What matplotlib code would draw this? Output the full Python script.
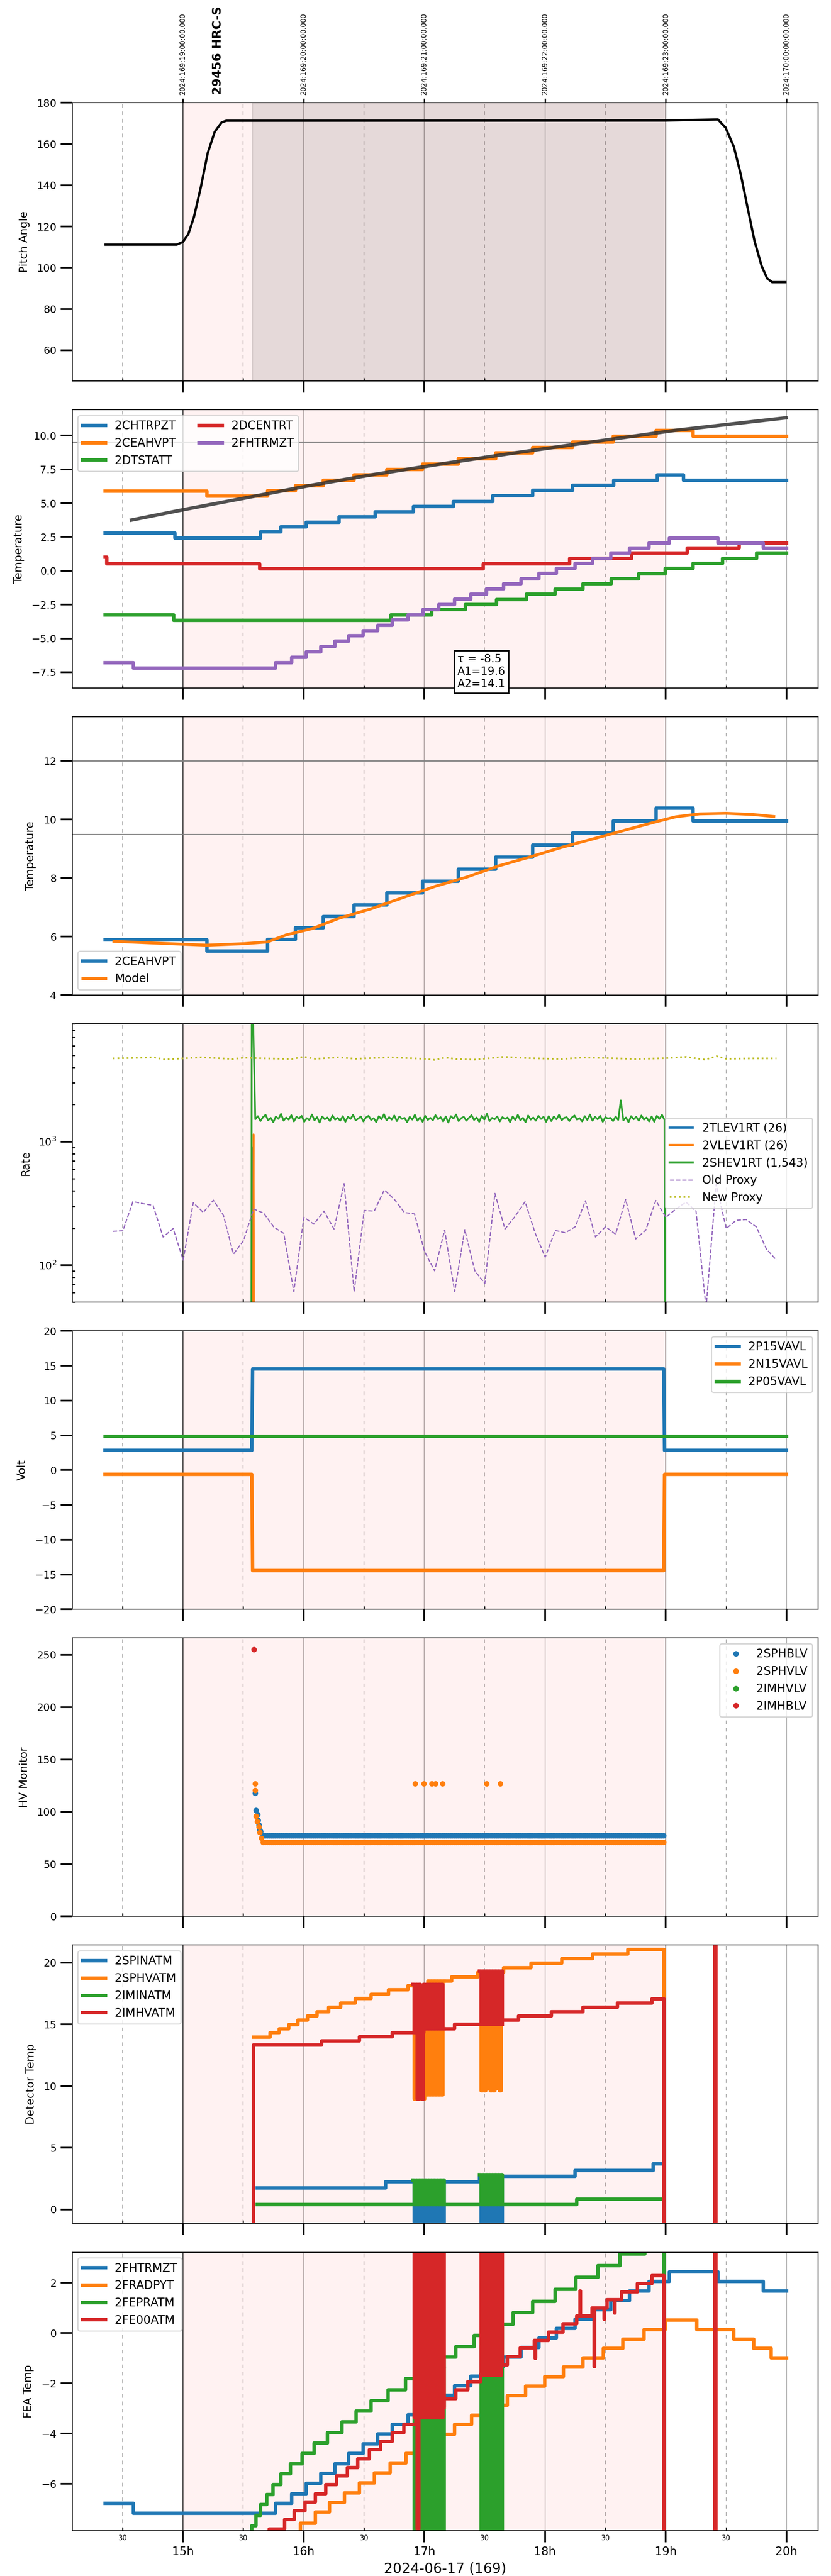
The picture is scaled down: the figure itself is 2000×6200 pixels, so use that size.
import numpy as np
import matplotlib.pyplot as plt
import matplotlib.transforms as mtransforms
from matplotlib.ticker import FixedLocator, FixedFormatter, MultipleLocator, NullLocator

# times are decimal hours, local time on 2024-06-17 (day 169)
hours = [15, 16, 17, 18, 19, 20]
half_hours = [14.5, 15.5, 16.5, 17.5, 18.5, 19.5]
hour_labels = ['15h', '16h', '17h', '18h', '19h', '20h']
utc_labels = ['2024:169:19:00:00.000', '2024:169:20:00:00.000', '2024:169:21:00:00.000',
              '2024:169:22:00:00.000', '2024:169:23:00:00.000', '2024:170:00:00:00.000']
obs_start, obs_end = 15.0, 19.0
dwell_start = 15.576
obsid_label = '29456 HRC-S'
obsid_time = 15.29

# --- pitch
pitch_t = [14.36, 14.948, 15.0, 15.046, 15.092, 15.149, 15.206, 15.264, 15.321, 15.361,
           19.0, 19.432, 19.495, 19.564, 19.621, 19.679, 19.736, 19.794, 19.840, 19.881, 19.991]
pitch_v = [111.2, 111.2, 112.5, 116.4, 124.6, 139.1, 155.6, 165.9, 170.5, 171.3,
           171.4, 171.9, 168.0, 158.7, 145.3, 128.8, 112.8, 100.9, 94.8, 93.0, 93.0]

# --- temperatures (panel 2)
chtrpzt_t = [14.355, 14.934, 15.645, 15.812, 16.023, 16.295, 16.593, 16.910, 17.239, 17.568,
             17.897, 18.227, 18.569, 18.929, 19.148, 20.0]
chtrpzt_v = [2.80, 2.43, 2.87, 3.24, 3.60, 4.00, 4.37, 4.76, 5.13, 5.54, 5.94, 6.32, 6.70,
             7.10, 6.70, 6.70]
ceahvpt_t = [14.355, 15.198, 15.702, 15.931, 16.163, 16.418, 16.690, 16.984, 17.283, 17.590,
             17.897, 18.227, 18.565, 18.920, 19.227, 20.0]
ceahvpt_v = [5.89, 5.51, 5.91, 6.30, 6.68, 7.08, 7.49, 7.89, 8.30, 8.71, 9.12, 9.53, 9.94,
             10.38, 9.94, 9.94]
dtstatt_t = [14.355, 14.925, 16.725, 17.063, 17.340, 17.599, 17.845, 18.082, 18.314, 18.547,
             18.775, 18.995, 19.227, 19.469, 19.754, 20.0]
dtstatt_v = [-3.26, -3.66, -3.26, -2.87, -2.48, -2.12, -1.72, -1.35, -0.96, -0.59, -0.21,
             0.17, 0.55, 0.93, 1.30, 1.30]
dcentrt_t = [14.355, 14.37, 15.636, 17.489, 18.205, 18.718, 19.179, 19.609, 20.0]
dcentrt_v = [1.0, 0.52, 0.16, 0.52, 0.92, 1.30, 1.67, 2.05, 2.05]
fhtrmzt_t = [14.355, 14.592, 15.768, 15.900, 16.023, 16.141, 16.260, 16.374, 16.493, 16.615,
             16.734, 16.866, 16.989, 17.120, 17.252, 17.384, 17.515, 17.656, 17.801, 17.950,
             18.095, 18.248, 18.393, 18.543, 18.701, 18.863, 19.030, 19.434, 19.807, 20.0]
fhtrmzt_v = [-6.78, -7.18, -6.78, -6.39, -5.99, -5.59, -5.20, -4.80, -4.42, -4.02, -3.64,
             -3.25, -2.87, -2.48, -2.10, -1.72, -1.34, -0.96, -0.58, -0.20, 0.19, 0.55, 0.93,
             1.30, 1.68, 2.05, 2.43, 2.05, 1.68, 1.68]
fit_t = [14.574, 15.0, 15.702, 16.049, 16.554, 17.133, 17.744, 18.393, 19.074, 19.996]
fit_v = [3.75, 4.51, 5.70, 6.30, 7.08, 7.89, 8.71, 9.53, 10.38, 11.31]
fit_text = 'τ = -8.5\nA1=19.6\nA2=14.1'

# --- model (panel 3)
model_t = [14.429, 14.802, 15.198, 15.505, 15.702, 15.856, 16.076, 16.295, 16.558, 16.822,
           17.085, 17.349, 17.612, 17.875, 18.139, 18.402, 18.666, 18.929, 19.083, 19.280,
           19.500, 19.719, 19.895]
model_v = [5.84, 5.775, 5.71, 5.76, 5.82, 6.06, 6.28, 6.63, 6.95, 7.33, 7.71, 8.03, 8.41,
           8.72, 9.05, 9.34, 9.64, 9.93, 10.09, 10.19, 10.21, 10.17, 10.10]

# --- rates (panel 4)
tlev_t = [15.570, 15.583, 15.587, 18.99, 19.0]
tlev_v = [1, 900, 26, 26, 1]
vlev_t = [15.575, 15.586, 15.590, 18.99, 19.0]
vlev_v = [1, 1150, 26, 26, 1]
shev_v = [1520, 1610, 1470, 1580, 1650, 1490, 1560, 1440, 1600, 1530,
          1680, 1480, 1570, 1510, 1640, 1460, 1590, 1540, 1620, 1450,
          1550, 1500, 1660, 1490, 1580, 1430, 1600, 1520, 1570, 1470,
          1630, 1510, 1560, 1480, 1610, 1450, 1590, 1530, 1650, 1490,
          1540, 1600, 1460, 1570, 1620, 1500, 1550, 1440, 1610, 1520,
          1670, 1490, 1580, 1510, 1630, 1470, 1600, 1530, 1560, 1440,
          1590, 1510, 1650, 1480, 1570, 1450, 1620, 1500, 1560, 1490,
          1640, 1520, 1580, 1460, 1600, 1430, 1610, 1540, 1660, 1470,
          1550, 1590, 1480, 1560, 1640, 1500, 1570, 1450, 1620, 1510,
          1680, 1470, 1560, 1520, 1600, 1460, 1580, 1530, 1570, 1440,
          1600, 1500, 1650, 1490, 1560, 1440, 1630, 1510, 1570, 1480,
          1620, 1530, 1590, 1450, 1610, 1470, 1600, 1520, 1650, 1490,
          1560, 1580, 1470, 1570, 1630, 1510, 1550, 1460, 1610, 1500,
          1660, 1480, 1590, 1520, 1620, 1450, 1580, 1540, 1560, 1470,
          1600, 1500, 2160, 1490, 1570, 1440, 1610, 1520, 1590, 1480,
          1630, 1510, 1570, 1460, 1600, 1450, 1620, 1530, 1650, 1500]
shev_start = (15.566, 15.571)
shev_start_v = (1, 30000)
old_proxy_v = [188, 190, 327, 315, 305, 169, 198, 110, 321, 267,
               336, 253, 123, 158, 285, 264, 204, 181, 61, 244,
               215, 274, 196, 458, 61, 277, 274, 407, 341, 267,
               260, 129, 90, 192, 61, 194, 90, 71, 381, 196,
               248, 327, 182, 116, 191, 183, 205, 332, 169, 205,
               178, 341, 163, 192, 334, 244, 285, 324, 274, 45,
               453, 198, 231, 234, 204, 135, 110]
new_proxy_t = [14.421, 14.583, 14.759, 14.846, 15.000, 15.154, 15.417, 15.505, 15.680, 15.900,
               16.001, 16.097, 16.295, 16.427, 16.712, 16.997, 17.085, 17.173, 17.261, 17.414,
               17.656, 17.875, 18.139, 18.314, 18.490, 18.753, 18.995, 19.170, 19.324, 19.421,
               19.500, 19.719, 19.917]
new_proxy_v = [4734, 4770, 4830, 4642, 4734, 4830, 4679, 4793, 4734, 4679,
               4868, 4697, 4830, 4697, 4830, 4697, 4604, 4812, 4679, 4623,
               4868, 4752, 4679, 4812, 4770, 4679, 4752, 4868, 4623, 4926,
               4697, 4734, 4734]

# --- voltages (panel 5)
volt_t = [14.355, 15.571, 15.578, 18.983, 18.990, 20.0]
p15_v = [2.85, 2.85, 14.55, 14.55, 2.85, 2.85]
n15_v = [-0.6, -0.6, -14.43, -14.43, -0.6, -0.6]
p05_v = [4.85, 4.85, 4.85, 4.85, 4.85, 4.85]

# --- HV monitors (panel 6)
sphblv_t = [15.597, 15.606, 15.619, 15.623, 15.628, 15.637, 15.645]
sphblv_v = [117.8, 101.6, 97.3, 92.0, 87.4, 82.6, 81.0]
sphblv_level = 77.3
sphvlv_t = [15.597, 15.599, 15.606, 15.615, 15.628, 15.637, 15.650,
            16.923, 16.997, 17.063, 17.094, 17.151, 17.515, 17.630]
sphvlv_v = [126.9, 120.6, 95.9, 90.8, 85.5, 80.2, 75.0,
            126.9, 126.9, 126.9, 126.9, 126.9, 126.9, 126.9]
sphvlv_level = 70.7
hv_band = (15.665, 18.99)
imhvlv_t, imhvlv_v = [], []
imhblv_t, imhblv_v = [15.588], [255.1]

# --- detector temps (panel 7)
spinatm_t = [15.615, 16.681, 17.458, 18.248, 18.894, 18.986, 20.0]
spinatm_v = [1.76, 2.24, 2.69, 3.17, 3.69, -60, -60]
sphvatm_t = [15.584, 15.724, 15.799, 15.878, 15.953, 16.032, 16.111, 16.207, 16.308, 16.427,
             16.558, 16.703, 16.866, 17.032, 17.226, 17.445, 17.656, 17.884, 18.139, 18.393,
             18.687, 18.986, 20.0]
sphvatm_v = [13.96, 14.33, 14.65, 14.99, 15.33, 15.68, 16.02, 16.38, 16.73, 17.09, 17.44,
             17.79, 18.15, 18.50, 18.86, 19.23, 19.60, 19.95, 20.32, 20.69, 21.08, -60, -60]
iminatm_t = [15.615, 18.261, 18.986, 20.0]
iminatm_v = [0.39, 0.84, -60, -60]
imhvatm_t = [15.575, 15.584, 16.150, 16.462, 16.734, 16.997, 17.252, 17.533, 17.779, 18.051,
             18.314, 18.600, 18.885, 18.986, 19.405, 19.415, 20.0]
imhvatm_v = [-60, 13.32, 13.67, 14.01, 14.33, 14.65, 15.01, 15.35, 15.68, 16.02, 16.38, 16.73,
             17.07, -60, 60, -60, -60]
burst1 = (16.905, 17.165)
burst2 = (17.458, 17.647)
spinatm_b1 = [-1.5, 2.24, -1.5, 2.24, -1.5, 2.24, -1.5, 2.24, -1.5, 2.24, -1.5,
              2.24, -1.5, 2.24, -1.5, 2.24, -1.5, 2.24, -1.5, 2.24, -1.5, 2.24]
sphvatm_b1 = [18.15, 8.94, 18.15, 8.94, 18.15, 8.94, 18.15, 8.94, 18.15, 9.30, 18.50,
              9.30, 18.50, 9.30, 18.50, 9.30, 18.50, 9.30, 18.50, 9.30, 18.50, 18.50]
iminatm_b1 = [2.37, 0.39, 2.37, 0.39, 2.37, 0.39, 2.37, 0.39, 2.37, 0.39, 2.37,
              0.39, 2.37, 0.39, 2.37, 0.39, 2.37, 0.39, 2.37, 0.39, 2.37, 0.39]
imhvatm_b1 = [18.23, 14.33, 18.23, 8.94, 18.23, 14.33, 8.94, 18.23, 14.65, 18.23, 14.65,
              18.23, 14.65, 18.23, 14.65, 18.23, 14.65, 18.23, 14.65, 18.23, 14.65, 14.65]
spinatm_b2 = [-1.5, 2.69, -1.5, 2.69, -1.5, 2.69, -1.5, 2.69,
              -1.5, 2.69, -1.5, 2.69, -1.5, 2.69, -1.5, 2.69]
sphvatm_b2 = [19.23, 9.61, 19.23, 9.61, 19.23, 9.80, 19.23, 9.61,
              19.23, 9.61, 19.23, 9.80, 19.23, 9.61, 19.23, 19.23]
iminatm_b2 = [2.82, 0.39, 2.82, 0.39, 2.82, 0.39, 2.82, 0.39,
              2.82, 0.39, 2.82, 0.39, 2.82, 0.39, 2.82, 0.39]
imhvatm_b2 = [19.32, 15.01, 19.32, 15.01, 19.32, 15.01, 19.32, 15.01,
              19.32, 15.01, 19.32, 15.01, 19.32, 15.01, 19.32, 15.01]

# --- FEA temps (panel 8)
fradpyt_t = [15.856, 15.975, 16.097, 16.216, 16.339, 16.462, 16.585, 16.716, 16.848, 16.975,
             17.107, 17.252, 17.392, 17.533, 17.687, 17.840, 17.998, 18.152, 18.314, 18.481,
             18.644, 18.819, 18.995, 19.258, 19.565, 19.728, 19.873, 20.0]
fradpyt_v = [-7.95, -7.57, -7.12, -6.74, -6.36, -5.97, -5.57, -5.18, -4.80, -4.42, -4.03,
             -3.64, -3.27, -2.88, -2.50, -2.12, -1.74, -1.36, -0.99, -0.61, -0.24, 0.14, 0.51,
             0.14, -0.24, -0.61, -0.99, -0.99]
fepratm_t = [15.527, 15.571, 15.606, 15.645, 15.694, 15.746, 15.812, 15.891, 15.988, 16.089,
             16.198, 16.317, 16.435, 16.558, 16.699, 16.844, 16.997, 17.164, 17.261, 17.414,
             17.568, 17.735, 17.897, 18.082, 18.257, 18.437, 18.622, 18.828, 18.986, 20.0]
fepratm_v = [-8.1, -7.67, -7.25, -6.83, -6.43, -6.03, -5.60, -5.21, -4.80, -4.38, -3.96,
             -3.54, -3.11, -2.69, -2.27, -1.81, -1.40, -0.96, -0.54, -0.09, 0.35, 0.81, 1.26,
             1.74, 2.22, 2.68, 3.15, 3.6, -9, -9]
fe00atm_t = [15.680, 15.716, 15.843, 15.922, 16.010, 16.097, 16.185, 16.273, 16.361, 16.449,
             16.545, 16.637, 16.734, 16.831, 16.932, 17.032, 17.164, 17.261, 17.362, 17.467,
             17.577, 17.687, 17.796, 17.910, 17.917, 17.921, 18.029, 18.148, 18.262, 18.290,
             18.294, 18.389, 18.408, 18.412, 18.488, 18.492, 18.512, 18.575, 18.579, 18.635,
             18.766, 18.885, 18.986, 19.405, 19.415, 20.0]
fe00atm_v = [-8.2, -7.80, -7.42, -7.08, -6.73, -6.39, -6.04, -5.69, -5.35, -5.00,
             -4.65, -4.31, -3.97, -3.64, -3.28, -2.95, -2.61, -2.27, -1.93, -1.61,
             -1.27, -0.94, -0.60, -0.29, -1.0, -0.29, 0.03, 0.36, 0.68, 1.68,
             0.68, 1.00, -1.33, 1.00, 0.55, 1.00, 1.32, 0.80, 1.32, 1.64,
             1.97, 2.29, -9, 9, -9, -9]
fepratm_b1 = [-9.0, -1.81, -9.0, -3.03, -9.0, -3.03, -9.0, -3.03, -9.0, -3.03, -9.0,
              -3.03, -9.0, -3.03, -9.0, -3.03, -9.0, -3.03, -9.0, -3.03, -9.0, -1.40]
fe00atm_b1 = [4.0, -3.37, 4.0, -7.8, 4.0, -3.37, 4.0, -3.37, 4.0, -3.37, 4.0,
              -3.37, 4.0, -3.37, 4.0, -3.37, 4.0, -3.37, 4.0, -3.37, 4.0, -2.95]
fepratm_b2 = [-9.0, -0.5, -9.0, -0.5, -9.0, -0.5, -9.0, -0.5,
              -9.0, -0.5, -9.0, -0.5, -9.0, -0.5, -9.0, 0.35]
fe00atm_b2 = [4.0, -1.68, 4.0, -1.68, 4.0, -1.68, 4.0, -1.68,
              4.0, -1.68, 4.0, -1.68, 4.0, -1.68, 4.0, -1.27]

C = ['#1f77b4', '#ff7f0e', '#2ca02c', '#d62728', '#9467bd', '#bcbd22']

fig, axes = plt.subplots(8, 1, figsize=(10, 31), dpi=200, sharex=True,
                         gridspec_kw=dict(left=0.0868, right=0.9845, top=0.9601,
                                          bottom=0.01766, hspace=0.103))

for ax in axes:
    ax.set_xlim(14.083, 20.262)
    ax.xaxis.set_major_locator(FixedLocator(hours))
    ax.xaxis.set_minor_locator(FixedLocator(half_hours))
    for h in hours:
        ax.axvline(h, color='0.7', lw=0.8, zorder=0)
    for h in half_hours:
        ax.axvline(h, color='0.7', lw=0.8, ls=(0, (4, 4)), zorder=0)
    ax.axvspan(obs_start, obs_end, color='red', alpha=0.05, lw=0, zorder=0)
    ax.axvline(obs_start, color='k', lw=0.5, zorder=0.5)
    ax.axvline(obs_end, color='k', lw=0.5, zorder=0.5)
    ax.tick_params(which='major', direction='out', length=10, width=1.5, labelsize=9)
    ax.tick_params(axis='x', which='major', labelsize=10)
    ax.tick_params(which='minor', direction='in', length=2.5, width=1, labelsize=6)

axes[-1].xaxis.set_major_formatter(FixedFormatter(hour_labels))
axes[-1].xaxis.set_minor_formatter(FixedFormatter(['30'] * len(half_hours)))
axes[-1].set_xlabel('2024-06-17 (169)', fontsize=12)

ylabel_kw = dict(fontsize=9.5, labelpad=6)
steps = dict(drawstyle='steps-post')

# panel 1: pitch
ax = axes[0]
ax.axvspan(dwell_start, obs_end, color='k', alpha=0.1, zorder=0)
ax.plot(pitch_t, pitch_v, color='k', lw=2)
ax.set_ylim(45, 180)
ax.yaxis.set_major_locator(MultipleLocator(20))
ax.set_ylabel('Pitch Angle', **ylabel_kw)
sec = ax.secondary_xaxis('top')
sec.set_xticks(hours)
sec.set_xticklabels(utc_labels, rotation=90, fontsize=6)
sec.xaxis.set_minor_locator(NullLocator())
sec.tick_params(length=3.5, width=1.2)
trans = mtransforms.blended_transform_factory(ax.transData, ax.transAxes)
ax.text(obsid_time, 1.029, obsid_label, transform=trans, rotation=90, ha='center',
        va='bottom', fontsize=10.5, fontweight='bold')

# panel 2: temperatures
ax = axes[1]
ax.axhline(9.5, color='grey', lw=1)
ax.axhline(12, color='grey', lw=1)
ax.plot(chtrpzt_t, chtrpzt_v, color=C[0], lw=3, label='2CHTRPZT', **steps)
ax.plot(ceahvpt_t, ceahvpt_v, color=C[1], lw=3, label='2CEAHVPT', **steps)
ax.plot(dtstatt_t, dtstatt_v, color=C[2], lw=3, label='2DTSTATT', **steps)
ax.plot(dcentrt_t, dcentrt_v, color=C[3], lw=3, label='2DCENTRT', **steps)
ax.plot(fhtrmzt_t, fhtrmzt_v, color=C[4], lw=3, label='2FHTRMZT', **steps)
ax.plot(fit_t, fit_v, color='#333333', alpha=0.85, lw=3)
ax.set_ylim(-8.68, 11.9)
ax.yaxis.set_major_locator(MultipleLocator(2.5))
ax.set_ylabel('Temperature', **ylabel_kw)
ax.legend(loc='upper left', ncol=2, fontsize=10)
ax.text(17.275, -7.46, fit_text, fontsize=9.5, ha='left', va='center', zorder=10,
        clip_on=False, bbox=dict(boxstyle='square,pad=0.3', fc='white', ec='black', lw=1.2))

# panel 3: model
ax = axes[2]
ax.axhline(9.5, color='grey', lw=1)
ax.axhline(12, color='grey', lw=1)
ax.plot(ceahvpt_t, ceahvpt_v, color=C[0], lw=3, label='2CEAHVPT', **steps)
ax.plot(model_t, model_v, color=C[1], lw=2.5, label='Model')
ax.set_ylim(4, 13.5)
ax.yaxis.set_major_locator(MultipleLocator(2))
ax.set_ylabel('Temperature', **ylabel_kw)
ax.legend(loc='lower left', fontsize=10)

# panel 4: rates
ax = axes[3]
shev_t = list(shev_start) + list(np.linspace(15.60, 18.99, len(shev_v))) + [19.0]
shev_all = list(shev_start_v) + shev_v + [1]
ax.plot(tlev_t, tlev_v, color=C[0], lw=1.5, label='2TLEV1RT (26)')
ax.plot(vlev_t, vlev_v, color=C[1], lw=1.5, label='2VLEV1RT (26)')
ax.plot(shev_t, shev_all, color=C[2], lw=1.5, label='2SHEV1RT (1,543)')
ax.plot(np.linspace(14.42, 19.917, len(old_proxy_v)), old_proxy_v, color=C[4], lw=1,
        ls='--', label='Old Proxy')
ax.plot(new_proxy_t, new_proxy_v, color=C[5], lw=1.5, ls=':', label='New Proxy')
ax.set_yscale('log')
ax.set_ylim(50, 9000)
ax.set_ylabel('Rate', **ylabel_kw)
leg = ax.legend(loc='center right', fontsize=10)
for h in leg.legend_handles[:3]:
    h.set_linewidth(2)

# panel 5: voltages
ax = axes[4]
ax.plot(volt_t, p15_v, color=C[0], lw=3, label='2P15VAVL')
ax.plot(volt_t, n15_v, color=C[1], lw=3, label='2N15VAVL')
ax.plot(volt_t, p05_v, color=C[2], lw=3, label='2P05VAVL')
ax.set_ylim(-20, 20)
ax.yaxis.set_major_locator(MultipleLocator(5))
ax.set_ylabel('Volt', **ylabel_kw)
ax.legend(loc='upper right', fontsize=10)

# panel 6: HV monitors
ax = axes[5]
band_t = np.arange(hv_band[0], hv_band[1], 1 / 60)
mk = dict(ls='none', marker='o', ms=4.8, mew=0)
ax.plot(sphblv_t + list(band_t), sphblv_v + [sphblv_level] * len(band_t), color=C[0],
        label='2SPHBLV', **mk)
ax.plot(list(band_t) + sphvlv_t, [sphvlv_level] * len(band_t) + sphvlv_v, color=C[1],
        label='2SPHVLV', **mk)
ax.plot(imhvlv_t, imhvlv_v, color=C[2], label='2IMHVLV', **mk)
ax.plot(imhblv_t, imhblv_v, color=C[3], label='2IMHBLV', **mk)
ax.set_ylim(0, 266)
ax.yaxis.set_major_locator(MultipleLocator(50))
ax.set_ylabel('HV Monitor', **ylabel_kw)
ax.legend(loc='upper right', fontsize=10)

# panel 7: detector temps
ax = axes[6]
b1 = np.linspace(burst1[0], burst1[1], len(imhvatm_b1))
b2 = np.linspace(burst2[0], burst2[1], len(imhvatm_b2))
for t, v, b1v, b2v, c, lab in [
        (spinatm_t, spinatm_v, spinatm_b1, spinatm_b2, C[0], '2SPINATM'),
        (sphvatm_t, sphvatm_v, sphvatm_b1, sphvatm_b2, C[1], '2SPHVATM'),
        (iminatm_t, iminatm_v, iminatm_b1, iminatm_b2, C[2], '2IMINATM'),
        (imhvatm_t, imhvatm_v, imhvatm_b1, imhvatm_b2, C[3], '2IMHVATM')]:
    ax.plot(t, v, color=c, lw=3, label=lab, **steps)
    ax.plot(b1, b1v, color=c, lw=3, **steps)
    ax.plot(b2, b2v, color=c, lw=3, **steps)
ax.set_ylim(-1.13, 21.42)
ax.yaxis.set_major_locator(MultipleLocator(5))
ax.set_ylabel('Detector Temp', **ylabel_kw)
ax.legend(loc='upper left', fontsize=10)

# panel 8: FEA temps
ax = axes[7]
ax.plot(fhtrmzt_t, fhtrmzt_v, color=C[0], lw=3, label='2FHTRMZT', **steps)
ax.plot(fradpyt_t, fradpyt_v, color=C[1], lw=3, label='2FRADPYT', **steps)
ax.plot(fepratm_t, fepratm_v, color=C[2], lw=3, label='2FEPRATM', **steps)
ax.plot(b1, fepratm_b1, color=C[2], lw=3, **steps)
ax.plot(b2, fepratm_b2, color=C[2], lw=3, **steps)
ax.plot(fe00atm_t, fe00atm_v, color=C[3], lw=3, label='2FE00ATM', **steps)
ax.plot(b1, fe00atm_b1, color=C[3], lw=3, **steps)
ax.plot(b2, fe00atm_b2, color=C[3], lw=3, **steps)
ax.set_ylim(-7.86, 3.22)
ax.yaxis.set_major_locator(MultipleLocator(2))
ax.set_ylabel('FEA Temp', **ylabel_kw)
ax.legend(loc='upper left', fontsize=10)

fig.savefig('out.png', dpi=200)
